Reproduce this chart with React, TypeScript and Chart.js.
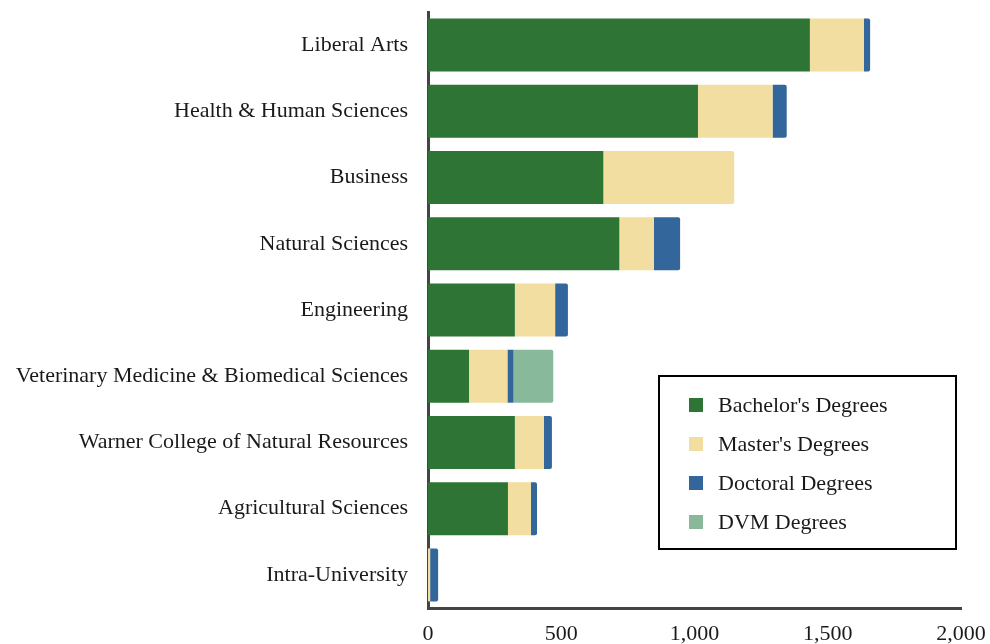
import React, { useEffect, useRef } from "react";
import { Chart, registerables } from "chart.js";

Chart.register(...registerables);

const categories = [
  "Liberal Arts",
  "Health & Human Sciences",
  "Business",
  "Natural Sciences",
  "Engineering",
  "Veterinary Medicine & Biomedical Sciences",
  "Warner College of Natural Resources",
  "Agricultural Sciences",
  "Intra-University",
];

const bachelors = [1433, 1013, 658, 718, 326, 154, 326, 300, 0];
const masters = [203, 280, 491, 130, 151, 144, 109, 86, 8];
const doctoral = [23, 53, 0, 98, 48, 23, 30, 23, 30];
const dvm = [0, 0, 0, 0, 0, 149, 0, 0, 0];

const xTicks = [0, 500, 1000, 1500, 2000];

const FONT = "'Liberation Serif', 'DejaVu Serif', serif";

const legendPlugin = {
  id: "boxLegend",
  afterDraw(chart: any) {
    const ctx = chart.ctx;
    const area = chart.chartArea;
    const w = 297;
    const h = 173;
    const x = area.right - 302;
    const y = area.bottom - 232;
    ctx.save();
    ctx.fillStyle = "#ffffff";
    ctx.fillRect(x, y, w, h);
    ctx.strokeStyle = "#000000";
    ctx.lineWidth = 2;
    ctx.strokeRect(x, y, w, h);
    ctx.font = `22px ${FONT}`;
    ctx.textBaseline = "middle";
    ctx.textAlign = "left";
    chart.data.datasets.forEach((ds: any, i: number) => {
      const cy = y + 29 + i * 39;
      ctx.fillStyle = ds.backgroundColor;
      ctx.fillRect(x + 30, cy - 7, 14, 14);
      ctx.fillStyle = "#1a1a1a";
      ctx.fillText(ds.label, x + 59, cy + 1);
    });
    ctx.restore();
  },
};

export default function App() {
  const ref = useRef<HTMLCanvasElement>(null);
  useEffect(() => {
    document.body.style.margin = "0";
    const chart = new Chart(ref.current!, {
      type: "bar",
      data: {
        labels: categories,
        datasets: [
          { label: "Bachelor's Degrees", data: bachelors, backgroundColor: "#2e7535" },
          { label: "Master's Degrees", data: masters, backgroundColor: "#f2dea0" },
          { label: "Doctoral Degrees", data: doctoral, backgroundColor: "#33669b" },
          { label: "DVM Degrees", data: dvm, backgroundColor: "#88b99a" },
        ],
      },
      options: {
        indexAxis: "y",
        animation: false,
        responsive: false,
        maintainAspectRatio: false,
        layout: { padding: { top: 12, right: 29, left: 0, bottom: 0 } },
        datasets: {
          bar: { categoryPercentage: 0.8, barPercentage: 1.0, borderRadius: 2 },
        },
        plugins: {
          legend: { display: false },
          tooltip: { enabled: false },
        },
        scales: {
          x: {
            stacked: true,
            min: 0,
            max: 2000,
            afterBuildTicks: (scale: any) => {
              scale.ticks = xTicks.map((v) => ({ value: v }));
            },
            afterFit: (scale: any) => {
              scale.height = 36;
              scale.paddingLeft = 0;
              scale.paddingRight = 0;
            },
            grid: { display: false, drawTicks: false },
            border: { display: true, color: "#444444", width: 3 },
            ticks: {
              color: "#1a1a1a",
              font: { family: FONT, size: 22 },
              padding: 13,
              maxRotation: 0,
              callback: (v: any) => Number(v).toLocaleString("en-US"),
            },
          },
          y: {
            stacked: true,
            afterFit: (scale: any) => {
              scale.width = 428;
              scale.paddingTop = 0;
              scale.paddingBottom = 0;
            },
            grid: { display: false, drawTicks: false },
            border: { display: true, color: "#444444", width: 3 },
            ticks: {
              color: "#1a1a1a",
              font: { family: FONT, size: 22 },
              padding: 20,
            },
          },
        },
      },
      plugins: [legendPlugin],
    } as any);
    return () => chart.destroy();
  }, []);
  return <canvas ref={ref} width={990} height={644} style={{ display: "block" }} />;
}
